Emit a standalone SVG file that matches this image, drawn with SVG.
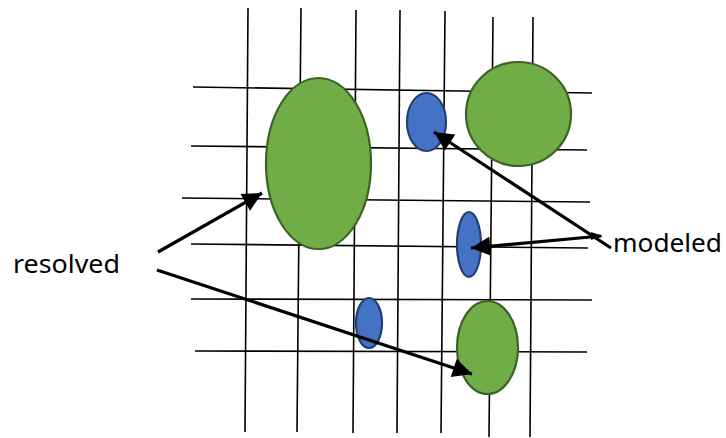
<svg xmlns="http://www.w3.org/2000/svg" width="726" height="438" viewBox="0 0 726 438">
<style>
.grid line{stroke:#000;stroke-width:1.6}
.green{fill:#70AD47;stroke:#3B6424;stroke-width:2.2}
.blue{fill:#4472C4;stroke:#213F73;stroke-width:2.2}
.arrow{stroke:#000;stroke-width:3.2;fill:none}
.lbl{font-family:"Noto Sans","Open Sans",sans-serif;font-size:26px;fill:#000}
</style>
<defs>
<marker id="ah" viewBox="0 0 10 10" refX="10" refY="5" markerWidth="7" markerHeight="6" orient="auto" markerUnits="strokeWidth">
<path d="M0,0 L10,5 L0,10 z" fill="#000"/>
</marker>
</defs>
<rect width="726" height="438" fill="#fff"/>
<g id="grid" class="grid">
<line x1="248" y1="8" x2="245" y2="432"/>
<line x1="301" y1="8" x2="297" y2="432"/>
<line x1="356" y1="10" x2="353" y2="433"/>
<line x1="400" y1="10" x2="397" y2="433"/>
<line x1="445" y1="11" x2="441" y2="433"/>
<line x1="493" y1="17" x2="489" y2="437"/>
<line x1="533" y1="17" x2="530" y2="437"/>
<line x1="193" y1="87" x2="592" y2="93"/>
<line x1="191" y1="146" x2="587" y2="150"/>
<line x1="182" y1="198" x2="590" y2="202"/>
<line x1="191" y1="244" x2="588" y2="248"/>
<line x1="191" y1="299" x2="592" y2="300"/>
<line x1="195" y1="351" x2="587" y2="352"/>
</g>
<g id="cell-big"><ellipse class="green" cx="318.5" cy="163.5" rx="52.5" ry="85.5"/></g>
<g id="cell-topright"><ellipse class="green" cx="518.5" cy="114" rx="52.5" ry="52"/></g>
<g id="cell-bottom"><ellipse class="green" cx="487.5" cy="347.5" rx="30.5" ry="46.5"/></g>
<g id="blob-top"><ellipse class="blue" cx="426.5" cy="122" rx="19.5" ry="29"/></g>
<g id="blob-mid"><ellipse class="blue" cx="469" cy="244.5" rx="12" ry="32.5"/></g>
<g id="blob-low"><ellipse class="blue" cx="369" cy="323" rx="13" ry="25"/></g>
<g id="connectors">
<line class="arrow" x1="158" y1="252" x2="262" y2="193" marker-end="url(#ah)"/>
<line class="arrow" x1="157" y1="270" x2="472" y2="374" marker-end="url(#ah)"/>
<line class="arrow" x1="611" y1="248" x2="434" y2="132" marker-end="url(#ah)"/>
<line class="arrow" x1="601" y1="236" x2="471" y2="248" marker-end="url(#ah)"/>
<path d="M591,232 L603,236 L591,240 z" fill="#000"/>
</g>
<g id="label-resolved"><text class="lbl" x="13" y="273" textLength="107" lengthAdjust="spacingAndGlyphs">resolved</text></g>
<g id="label-modeled"><text class="lbl" x="613" y="252" textLength="109" lengthAdjust="spacingAndGlyphs">modeled</text></g>
</svg>
